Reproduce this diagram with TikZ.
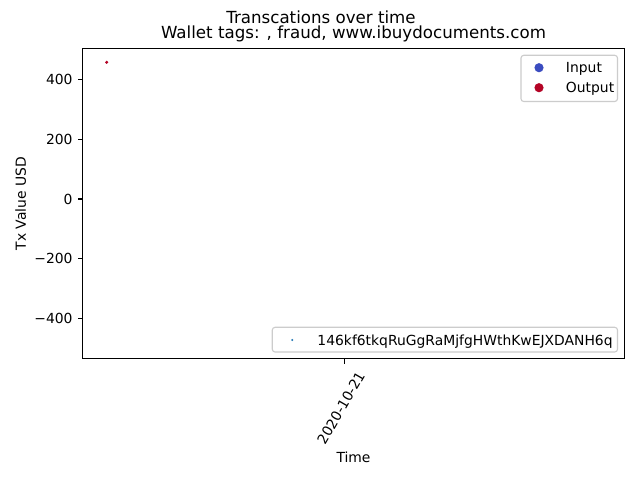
\documentclass[tikz,border=0pt]{standalone}
\usepackage{fontspec}
\setmainfont{DejaVu Sans}
\definecolor{inputc}{RGB}{59,76,192}
\definecolor{outputc}{RGB}{180,4,38}
\definecolor{scatc}{RGB}{31,119,180}
\definecolor{legedge}{RGB}{204,204,204}
\begin{document}
\begin{tikzpicture}[x=0.72pt,y=-0.72pt,
  axisline/.style={line width=0.8pt, black},
  tickline/.style={line width=0.8pt, black},
  ticklab/.style={inner sep=0pt, font=\fontsize{10}{12}\selectfont},
  titlelab/.style={inner sep=0pt, font=\fontsize{12}{14}\selectfont},
  legbox/.style={draw=legedge, line width=0.8pt, fill=white, fill opacity=0.8, rounded corners=2pt}]
\useasboundingbox (0,0) rectangle (640,480);
\fill[white] (0,0) rectangle (640,480);
% titles
\node[titlelab, anchor=base] (suptitle) at (321,23) {Transcations over time};
\node[titlelab, anchor=base] (axtitle) at (353.5,38.5) {Wallet tags: , fraud, www.ibuydocuments.com};
% data point
\fill[outputc] (106.7,62.3) circle [radius=1.2pt];
% axes frame
\draw[axisline] (82.5,48.3) rectangle (624.5,358.7);
% y ticks
\foreach \lab/\yy [count=\i] in {400/79.5, 200/139.2, 0/199, {−200}/258.8, {−400}/318.5}{
  \draw[tickline] (82.5,\yy) -- (77.6,\yy);
  \node[ticklab, anchor=east] (yt\i) at (72.8,\yy) {\lab};
}
% x tick
\draw[tickline] (344.3,358.7) -- (344.3,363.6);
\node[ticklab, rotate=60] (xt1) at (341,408) {2020-10-21};
% axis labels
\node[ticklab, anchor=base] (xlabel) at (353.5,462) {Time};
\node[ticklab, rotate=90, anchor=base] (ylabel) at (26,203.7) {Tx Value USD};
% legend 1
\draw[legbox] (521,55.3) rectangle (617.5,101.5);
\fill[inputc] (539,67.7) circle [radius=3.3pt];
\fill[outputc] (539,87.7) circle [radius=3.3pt];
\node[ticklab, anchor=base west] (leg1a) at (565.7,72.5) {Input};
\node[ticklab, anchor=base west] (leg1b) at (565.7,92.5) {Output};
% legend 2
\draw[legbox] (272.3,327.3) rectangle (617.5,352);
\fill[scatc] (292.3,340) circle [radius=0.8pt];
\node[ticklab, anchor=base west] (leg2a) at (317.2,345) {146kf6tkqRuGgRaMjfgHWthKwEJXDANH6q};
\end{tikzpicture}
\end{document}
